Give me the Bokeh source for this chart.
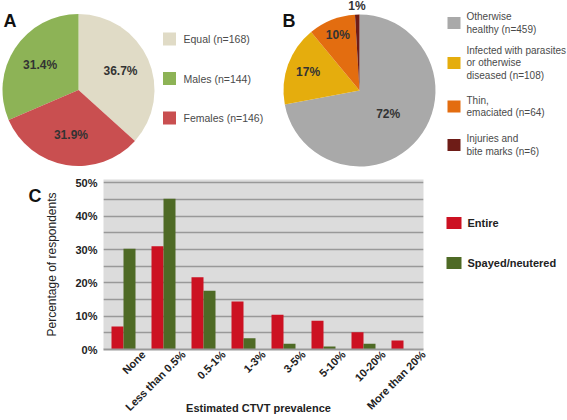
import numpy as np
from bokeh.plotting import figure
from bokeh.models import Range1d, FixedTicker, PrintfTickFormatter
from bokeh.embed import file_html
from bokeh.resources import INLINE
from bokeh.core.properties import value

FONT = "Liberation Sans"
W, H = 567, 420

# ---------------- Panel A: sex of dogs affected ----------------
sex_labels = ["Equal", "Males", "Females"]
sex_counts = [168, 144, 146]
sex_colors = ["#e0dbc6", "#8db356", "#c94f50"]
sex_draw_order = [0, 2, 1]          # clockwise from 12 o'clock

# ---------------- Panel B: condition of dogs ----------------
cond_labels = ["Otherwise\nhealthy", "Infected with parasites\nor otherwise\ndiseased",
               "Thin,\nemaciated", "Injuries and\nbite marks"]
cond_counts = [459, 108, 64, 6]
cond_colors = ["#a9a9a9", "#e5ad0d", "#e36d10", "#6e1c17"]
cond_draw_order = [0, 1, 2, 3]

# ---------------- Panel C: estimated CTVT prevalence ----------------
prev_cats = ["None", "Less than 0.5%", "0.5-1%", "1-3%", "3-5%", "5-10%",
             "10-20%", "More than 20%"]
entire = [6.9, 31.0, 21.7, 14.4, 10.4, 8.6, 5.2, 2.7]
spayed = [30.2, 45.2, 17.6, 3.4, 1.7, 0.9, 1.7, 0.0]
series_names = ["Entire", "Spayed/neutered"]
series_colors = ["#cc1122", "#4e6a25"]
y_ticks = [0, 10, 20, 30, 40, 50]


def pie_angles(counts, order):
    total = float(sum(counts))
    starts = [0.0] * len(counts)
    ends = [0.0] * len(counts)
    cur = np.pi / 2
    for i in order:
        a = 2 * np.pi * counts[i] / total
        ends[i] = cur
        starts[i] = cur - a
        cur -= a
    return starts, ends, total


# ============ background figure: pies, panel letters, legends ============
bg = figure(width=W, height=H, x_range=Range1d(0, W), y_range=Range1d(-H, 0),
            output_backend="svg", toolbar_location=None, min_border=0,
            x_axis_location=None, y_axis_location=None)
bg.grid.visible = False
bg.outline_line_color = None
bg.background_fill_color = "white"
bg.border_fill_color = "white"

# Pie A
ax, ay, ar = 78, -89.5, 76
s, e, tot = pie_angles(sex_counts, sex_draw_order)
bg.wedge(x=ax, y=ay, radius=ar, start_angle=s, end_angle=e, fill_color=sex_colors,
         line_color=None)
mid = [(a + b) / 2 for a, b in zip(s, e)]
bg.text(x=[ax + 46 * np.cos(m) for m in mid], y=[ay + 46 * np.sin(m) for m in mid],
        text=[f"{100 * c / tot:.1f}%" for c in sex_counts],
        text_align="center", text_baseline="middle", text_font=value(FONT),
        text_font_style="bold", text_font_size="12px", text_color="#333333")
leg_a_y = [-38.5, -78, -117.5]
bg.rect(x=169, y=leg_a_y, width=13, height=13, fill_color=sex_colors, line_color=None)
bg.text(x=183, y=leg_a_y, text=[f"{l} (n={c})" for l, c in zip(sex_labels, sex_counts)],
        text_align="left", text_baseline="middle", text_font=value(FONT),
        text_font_size="10.5px", text_color="#4a4a4a")

# Pie B
bx, by, br = 359, -90, 76
s, e, tot = pie_angles(cond_counts, cond_draw_order)
bg.wedge(x=bx, y=by, radius=br, start_angle=s, end_angle=e, fill_color=cond_colors,
         line_color=None)
mid = [(a + b) / 2 for a, b in zip(s, e)]
lab_r = [0.49 * br, 0.72 * br, 0.78 * br, 1.11 * br]
bg.text(x=[bx + r * np.cos(m) for r, m in zip(lab_r, mid)],
        y=[by + r * np.sin(m) for r, m in zip(lab_r, mid)],
        text=[f"{100 * c / tot:.0f}%" for c in cond_counts],
        text_align="center", text_baseline="middle", text_font=value(FONT),
        text_font_style="bold", text_font_size="12px", text_color="#333333")
leg_b_y = [-22.5, -62.5, -106, -144.5]
bg.rect(x=453.5, y=leg_b_y, width=13, height=12, fill_color=cond_colors, line_color=None)
bg.text(x=466, y=leg_b_y, text=[f"{l} (n={c})" for l, c in zip(cond_labels, cond_counts)],
        text_align="left", text_baseline="middle", text_font=value(FONT),
        text_font_size="10px", text_color="#4a4a4a", text_line_height=1.17)

# panel letters
bg.text(x=[3, 282, 28], y=[-20, -20, -195], text=["A", "B", "C"], text_font=value(FONT),
        text_font_style="bold", text_font_size="18px", text_color="#111111",
        text_baseline="alphabetic")

# legend and x-axis title of panel C
leg_c_y = [-222.5, -262.5]
bg.rect(x=453.5, y=leg_c_y, width=15, height=12, fill_color=series_colors, line_color=None)
bg.text(x=467, y=leg_c_y, text=series_names, text_align="left", text_baseline="middle",
        text_font=value(FONT), text_font_style="bold", text_font_size="11px",
        text_color="#222222")
bg.text(x=[258], y=[-407.5], text=["Estimated CTVT prevalence"], text_align="center",
        text_baseline="middle", text_font=value(FONT), text_font_style="bold",
        text_font_size="11px", text_color="#222222")

# ================= bar chart C (overlaid) =================
p = figure(width=W, height=H, x_range=Range1d(-1.0, 7.0), y_range=Range1d(0, 51),
           output_backend="svg", toolbar_location=None,
           min_border_left=103, min_border_right=144, min_border_top=179,
           min_border_bottom=70,
           styles={"position": "absolute", "top": "0px", "left": "0px"})
p.background_fill_color = "#dcdcdc"
p.border_fill_color = None
p.outline_line_color = None

centers = np.arange(len(prev_cats)) - 0.5
p.vbar(x=centers - 0.15, top=entire, width=0.3, fill_color=series_colors[0], line_color=None)
p.vbar(x=centers + 0.15, top=spayed, width=0.3, fill_color=series_colors[1], line_color=None)

p.xgrid.ticker = FixedTicker(ticks=[])
p.xgrid.grid_line_color = None
p.xgrid.visible = False
p.ygrid.ticker = FixedTicker(ticks=list(range(0, 51, 5)))
p.ygrid.grid_line_color = "#999999"
p.ygrid.grid_line_width = 1.5

p.yaxis.ticker = FixedTicker(ticks=y_ticks)
p.yaxis.formatter = PrintfTickFormatter(format="%d%%")
p.yaxis.axis_line_color = None
p.yaxis.major_tick_line_color = None
p.yaxis.minor_tick_line_color = None
p.yaxis.major_tick_out = 0
p.yaxis.major_tick_in = 0
p.yaxis.minor_tick_out = 0
p.yaxis.major_label_standoff = 6
p.yaxis.major_label_text_font = FONT
p.yaxis.major_label_text_font_style = "bold"
p.yaxis.major_label_text_font_size = "11px"
p.yaxis.major_label_text_color = "#222222"
p.yaxis.axis_label = "Percentage of respondents"
p.yaxis.axis_label_text_font = FONT
p.yaxis.axis_label_text_font_style = "normal"
p.yaxis.axis_label_text_font_size = "12px"
p.yaxis.axis_label_text_color = "#222222"
p.yaxis.axis_label_standoff = 13

p.xaxis.ticker = FixedTicker(ticks=list(range(len(prev_cats))))
p.xaxis.major_label_overrides = {i: c for i, c in enumerate(prev_cats)}
p.xaxis.major_label_orientation = np.pi / 4
p.xaxis.major_tick_line_color = None
p.xaxis.minor_tick_line_color = None
p.xaxis.major_tick_out = 0
p.xaxis.major_tick_in = 0
p.xaxis.minor_tick_out = 0
p.xaxis.axis_line_color = "#999999"
p.xaxis.axis_line_width = 2
p.xaxis.major_label_standoff = 3
p.xaxis.major_label_text_font = FONT
p.xaxis.major_label_text_font_style = "bold"
p.xaxis.major_label_text_font_size = "11px"
p.xaxis.major_label_text_color = "#222222"

open("out.html", "w").write(file_html([bg, p], INLINE))
